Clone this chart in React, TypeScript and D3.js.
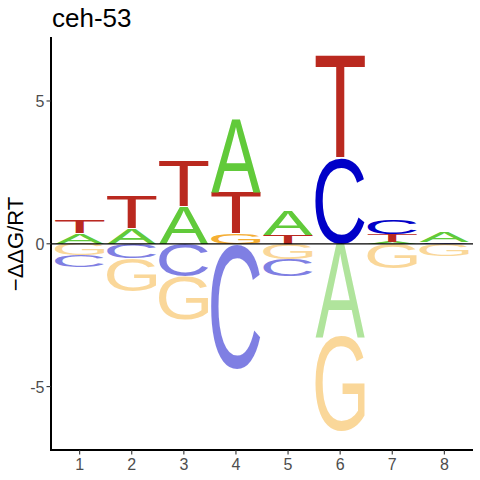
import React, { useMemo } from "react";
import * as d3 from "d3";

const positions = [1, 2, 3, 4, 5, 6, 7, 8];
const letters = ["A", "C", "G", "T"];
// positive (above zero) contributions
const posA = [0.37, 0.52, 1.3, 2.54, 0.84, 0, 0.07, 0.35];
const posC = [0, 0, 0, 0, 0, 3.0, 0.52, 0.05];
const posG = [0, 0, 0, 0.37, 0, 0, 0, 0];
const posT = [0.46, 1.15, 1.57, 1.46, 0.31, 3.6, 0.27, 0];
// negative (below zero) contributions
const negA = [0, 0, 0, 0, 0, -3.28, 0, 0];
const negC = [-0.42, -0.5, -1.15, -4.36, -0.59, 0, 0, 0];
const negG = [-0.41, -1.17, -1.52, 0, -0.54, -3.3, -0.86, -0.43];
const negT = [0, 0, 0, 0, 0, 0, 0, 0];
const yTicks = [-5, 0, 5];
const title = "ceh-53";
const yTitle = "\u2212\u0394\u0394G/RT";

const colors: Record<string, string> = {
  A: "#61CA3A",
  C: "#0000C8",
  G: "#F5AF34",
  T: "#BA291F",
};

const FONT = "Liberation Sans";

export default function App() {
  const W = 480,
    H = 480;
  const x = d3.scaleLinear().domain([0.45, 8.55]).range([51, 473]);
  const y = d3.scaleLinear().domain([-7.22, 7.24]).range([450, 37]);

  const metrics = useMemo(() => {
    const m: Record<string, { l: number; r: number; a: number; d: number }> = {};
    const c = document.createElement("canvas");
    const ctx = c.getContext("2d")!;
    ctx.font = `100px "${FONT}"`;
    for (const L of letters) {
      const t = ctx.measureText(L);
      m[L] = {
        l: t.actualBoundingBoxLeft,
        r: t.actualBoundingBoxRight,
        a: t.actualBoundingBoxAscent,
        d: t.actualBoundingBoxDescent,
      };
    }
    return m;
  }, []);

  const posData: Record<string, number[]> = { A: posA, C: posC, G: posG, T: posT };
  const negData: Record<string, number[]> = { A: negA, C: negC, G: negG, T: negT };

  const glyphs: React.ReactNode[] = [];
  positions.forEach((p, i) => {
    const x0 = x(p - 0.475);
    const w = x(p + 0.475) - x0;
    const drawStack = (data: Record<string, number[]>, sign: number, faded: boolean) => {
      const items = letters
        .map((L) => ({ L, v: data[L][i] }))
        .filter((d) => Math.abs(d.v) > 0.001)
        .sort((a, b) => Math.abs(a.v) - Math.abs(b.v));
      let cum = 0;
      items.forEach(({ L, v }) => {
        const a = cum,
          b = cum + v;
        cum = b;
        const yTop = Math.min(y(a), y(b));
        const h = Math.abs(y(a) - y(b));
        const mm = metrics[L];
        const sx = w / (mm.l + mm.r);
        const sy = h / (mm.a + mm.d);
        glyphs.push(
          <text
            key={`${p}-${L}-${sign}`}
            x={0}
            y={0}
            fontSize={100}
            fontFamily={FONT}
            fill={colors[L]}
            fillOpacity={faded ? 0.5 : 1}
            transform={`translate(${x0},${yTop}) scale(${sx},${sy}) translate(${mm.l},${mm.a})`}
          >
            {L}
          </text>
        );
      });
    };
    drawStack(posData, 1, false);
    drawStack(negData, -1, true);
  });

  return (
    <svg
      width={W}
      height={H}
      style={{ position: "absolute", left: 0, top: 0, background: "#fff" }}
      fontFamily={FONT}
    >
      <rect width={W} height={H} fill="#fff" />
      {glyphs}
      <line x1={51} x2={473} y1={y(0)} y2={y(0)} stroke="#000" strokeWidth={1.2} />
      {/* axes */}
      <line x1={51} x2={51} y1={37} y2={451} stroke="#000" strokeWidth={2} />
      <line x1={50} x2={473} y1={450} y2={450} stroke="#000" strokeWidth={2} />
      {yTicks.map((t) => (
        <g key={t}>
          <line x1={46.5} x2={51} y1={y(t)} y2={y(t)} stroke="#333" strokeWidth={1.1} />
          <text x={44.5} y={y(t) + 6} fontSize={16} fill="#4D4D4D" textAnchor="end">
            {t < 0 ? `-${Math.abs(t)}` : t}
          </text>
        </g>
      ))}
      {positions.map((p) => (
        <g key={p}>
          <line x1={x(p)} x2={x(p)} y1={450} y2={454.5} stroke="#333" strokeWidth={1.1} />
          <text x={x(p)} y={470} fontSize={16} fill="#4D4D4D" textAnchor="middle">
            {p}
          </text>
        </g>
      ))}
      <text x={52} y={27} fontSize={26} fill="#000">
        {title}
      </text>
      <text
        transform={`translate(23,244) rotate(-90)`}
        fontSize={22}
        fill="#000"
        textAnchor="middle"
      >
        {yTitle}
      </text>
    </svg>
  );
}
